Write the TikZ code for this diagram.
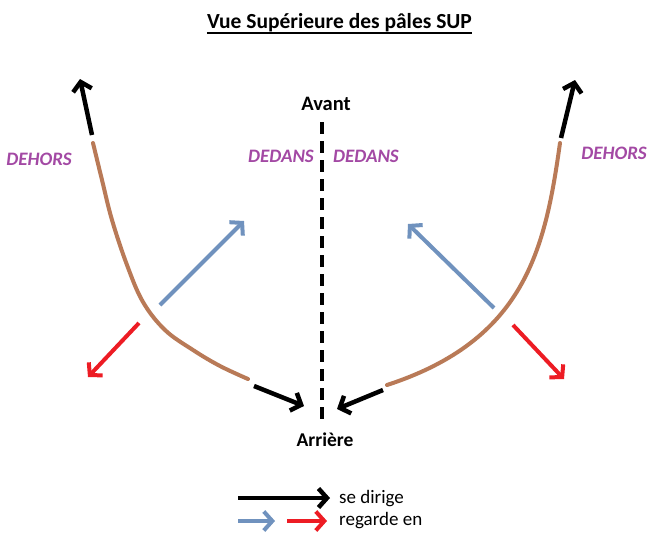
\documentclass[tikz,border=0pt]{standalone}
\usepackage{fontspec}
\setmainfont{Carlito}
\usetikzlibrary{arrows.meta}
\definecolor{brownc}{HTML}{B97A57}
\definecolor{bluec}{HTML}{7092BE}
\definecolor{redc}{HTML}{ED1C24}
\definecolor{purplec}{HTML}{A349A4}
\begin{document}
\begin{tikzpicture}[x=1pt,y=-1pt,
  lbl/.style={font=\fontsize{20.5}{24}\selectfont\bfseries, inner sep=0pt, anchor=base},
  side/.style={font=\fontsize{19}{22}\selectfont\bfseries\itshape, text=purplec, inner sep=0pt, anchor=base},
  legtxt/.style={font=\fontsize{19}{22}\selectfont, inner sep=0pt, anchor=base west},
  chev/.style={-{Straight Barb[length=8.5pt,width=19pt]}},
  goes/.style={chev, line width=4.5pt, black},
  looksb/.style={chev, line width=4pt, bluec},
  looksr/.style={chev, line width=4pt, redc},
  blade/.style={line width=4pt, brownc, line cap=round},
  axis/.style={line width=3.5pt, black, dash pattern=on 12pt off 7pt}
]
\useasboundingbox[fill=white] (0,0) rectangle (665,558);

% title
\node[lbl, font=\fontsize{21.5}{25}\selectfont\bfseries] (title) at (339.5,28) {Vue Supérieure des pâles SUP};
\draw[line width=1.8pt] ([yshift=-5pt]title.base west) -- ([yshift=-5pt]title.base east);

% axis labels
\node[lbl] (avant) at (326,110) {Avant};
\node[lbl, font=\fontsize{19.5}{24}\selectfont\bfseries] (arriere) at (325,446) {Arrière};
\coordinate (axtop) at (322,122);
\coordinate (axbot) at (322,421);
\draw[axis] (axtop) -- (axbot);

% side labels
\node[side] (dedansL) at (281,162) {DEDANS};
\node[side] (dedansR) at (366,162) {DEDANS};
\node[side] (dehorsL) at (39,165) {DEHORS};
\node[side] (dehorsR) at (614,159) {DEHORS};

% left blade
\draw[blade] plot[smooth, tension=0.6] coordinates {(93,143) (102,180) (112,220) (127,265) (143,302) (165,330) (193,350) (220,366) (248,379)};
\coordinate (lt1) at (92,135);
\coordinate (lt2) at (80,79);
\draw[goes] (lt1) -- (lt2);
\coordinate (lb1) at (254,386);
\coordinate (lb2) at (304,406);
\draw[goes] (lb1) -- (lb2);
\coordinate (lbl1) at (160,305);
\coordinate (lbl2) at (244,221);
\draw[looksb] (lbl1) -- (lbl2);
\coordinate (lr1) at (139,323);
\coordinate (lr2) at (88,377);
\draw[looksr] (lr1) -- (lr2);

% right blade
\coordinate (rs) at (560,143);
\coordinate (re) at (387,385);
\draw[blade] (rs) .. controls (545,250) and (525,340) .. (re);
\coordinate (rt1) at (561,138);
\coordinate (rt2) at (575,80);
\draw[goes] (rt1) -- (rt2);
\coordinate (rb1) at (383,390);
\coordinate (rb2) at (337,409);
\draw[goes] (rb1) -- (rb2);
\coordinate (rbl1) at (494,308);
\coordinate (rbl2) at (408,224);
\draw[looksb] (rbl1) -- (rbl2);
\coordinate (rr1) at (513,325);
\coordinate (rr2) at (564,379);
\draw[looksr] (rr1) -- (rr2);

% legend
\coordinate (k1) at (238,498);
\coordinate (k2) at (330,498);
\draw[goes] (k1) -- (k2);
\node[legtxt] (sedir) at (339,503) {se dirige};
\coordinate (b1) at (238,521);
\coordinate (b2) at (275,521);
\draw[looksb] (b1) -- (b2);
\coordinate (r1) at (287,521);
\coordinate (r2) at (327,521);
\draw[looksr] (r1) -- (r2);
\node[legtxt] (regen) at (339,525) {regarde en};
\end{tikzpicture}
\end{document}
